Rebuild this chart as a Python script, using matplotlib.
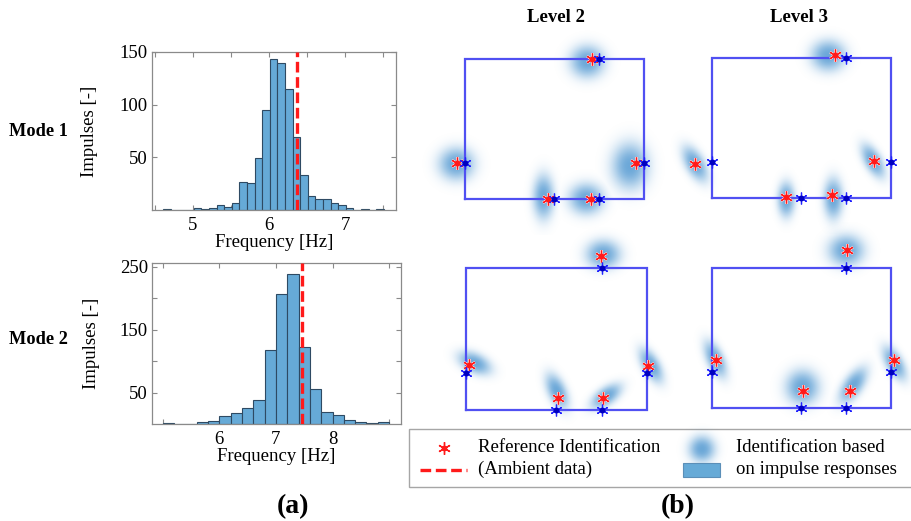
import numpy as np
import matplotlib
matplotlib.use("Agg")
import matplotlib.pyplot as plt
from matplotlib.patches import Rectangle

plt.rcParams['font.family'] = ['Liberation Serif', 'DejaVu Serif']
plt.rcParams['mathtext.fontset'] = 'stix'

# ---------------- data ----------------
# Mode 1 histogram (bin start, bin width, counts)
hist1_start = 4.61
hist1_width = 0.1
hist1_counts = [1, 0, 0, 0, 2, 1, 2, 5, 3, 7, 27, 26, 49, 95, 143, 140, 115, 69,
                33, 13, 10, 10, 7, 5, 2, 0, 1, 0, 1]
hist1_ref = 6.37

# Mode 2 histogram
hist2_start = 5.0
hist2_width = 0.2
hist2_counts = [1, 0, 0, 3, 5, 13, 17, 25, 38, 118, 207, 239, 123, 55, 19, 14, 7, 3, 2, 3]
hist2_ref = 7.455

# floor plan outline (local units)
plan_x = [0, 18, 18, 0, 0]
plan_y = [0, 0, 14, 14, 0]

# sensor locations (blue asterisks)
sensor_x = [13.5, 0.0, 18.0, 9.0, 13.5]
sensor_y = [14.0, 3.6, 3.6, 0.0, 0.0]

# reference identification (red asterisks) per panel
ref_L2M1_x = [12.8, -0.8, 17.2, 8.3, 12.7]
ref_L2M1_y = [14.0, 3.6, 3.6, 0.0, 0.0]
ref_L3M1_x = [12.4, -1.7, 16.26, 7.47, 12.1]
ref_L3M1_y = [14.26, 3.43, 3.66, 0.1, 0.33]
ref_L2M2_x = [13.44, 0.26, 18.1, 9.12, 13.64]
ref_L2M2_y = [15.15, 4.45, 4.38, 1.15, 1.15]
ref_L3M2_x = [13.55, 0.43, 18.33, 9.2, 13.88]
ref_L3M2_y = [15.77, 4.84, 4.77, 1.67, 1.7]

# impulse-based identification clouds: (cx, cy, semi-axis a, semi-axis b, angle deg)
cloud_L2M1 = [(12.3, 13.75, 1.8, 1.67, 0), (-0.85, 3.5, 1.85, 1.7, 0), (16.6, 3.3, 1.9, 2.4, 0),
              (7.9, 0.2, 1.1, 2.3, 0), (12.2, 0.0, 1.8, 1.6, 0)]
cloud_L3M1 = [(11.7, 14.25, 1.8, 1.6, 0), (-1.7, 3.4, 2.0, 1.0, -60), (16.2, 3.7, 1.9, 0.9, -60),
              (7.47, -0.17, 0.9, 1.8, 0), (12.2, -0.07, 1.0, 2.1, 0)]
cloud_L2M2 = [(13.6, 15.35, 1.77, 1.45, 0), (0.82, 4.64, 1.8, 1.0, -25), (18.36, 4.4, 1.9, 0.9, -60),
              (9.0, 1.88, 1.9, 0.95, -65), (13.9, 1.38, 1.8, 0.9, 35)]
cloud_L3M2 = [(13.5, 15.77, 1.85, 1.6, 0), (0.33, 4.87, 2.0, 0.9, -65), (18.35, 4.47, 1.9, 0.9, -60),
              (9.1, 2.07, 1.75, 1.8, 0), (14.2, 2.27, 2.1, 1.0, 55)]

# ---------------- styling ----------------
W, H = 912, 521
BAR_FC = '#66aad7'
BAR_EC = '#2e4a63'
RED = '#ff1a1a'
BLUE = '#2222ff'
PLAN_C = '#5050f2'
CLOUD_RGB = (0.24, 0.55, 0.80)
CLOUD_PEAK = 0.76
CLOUD_SCALE = 1.3
FS = 13.5

fig = plt.figure(figsize=(W / 100, H / 100), dpi=100)


def px_axes(l, t, r, b):
    return fig.add_axes([l / W, 1 - b / H, (r - l) / W, (b - t) / H])


def ftext(x, y, s, **kw):
    fig.text(x / W, 1 - y / H, s, ha='center', va='center', **kw)


def cloud_alpha(rn):
    # rn: normalised radius (1 = visible edge of the cloud)
    return CLOUD_PEAK * np.exp(-(rn / 0.72) ** 2.4)


def hist_axes(rect, start, width, counts, ref, xlim, ylim, xt, xtl, yt, ytl, ylab_x):
    ax = px_axes(*rect)
    edges = start + width * np.arange(len(counts))
    ax.bar(edges, counts, width=width, align='edge', color=BAR_FC,
           edgecolor=BAR_EC, linewidth=0.8, zorder=2)
    ax.axvline(ref, color=RED, lw=2.4, ls=(0, (3.2, 1.4)), zorder=3)
    ax.set_xlim(*xlim)
    ax.set_ylim(*ylim)
    ax.set_xticks(xt)
    ax.set_xticklabels(xtl)
    ax.set_yticks(yt)
    ax.set_yticklabels(ytl)
    for sp in ax.spines.values():
        sp.set_color('#8a8a8a')
        sp.set_linewidth(0.9)
    ax.tick_params(direction='in', top=True, right=True, length=3.5, width=0.8,
                   color='#8a8a8a', labelsize=FS)
    ax.tick_params(axis='x', pad=5)
    ax.tick_params(axis='y', pad=3)
    ax.set_xlabel('Frequency [Hz]', fontsize=FS, labelpad=0)
    ax.set_ylabel('Impulses [-]', fontsize=FS)
    ax.yaxis.set_label_coords(ylab_x, 0.5)
    return ax


hist_axes((152, 52, 396, 210), hist1_start, hist1_width, hist1_counts, hist1_ref,
          (4.46, 7.67), (0, 150), [4.5, 5, 5.5, 6, 6.5, 7, 7.5],
          ['', '5', '', '6', '', '7', ''], [50, 100, 150], ['50', '100', '150'], -0.22)
hist_axes((152, 263, 401, 424), hist2_start, hist2_width, hist2_counts, hist2_ref,
          (4.81, 9.21), (0, 256), [5, 6, 7, 8, 9], ['', '6', '7', '8', ''],
          [50, 100, 150, 200, 250], ['50', '', '150', '', '250'], -0.21)

XL = (-4.6, 22.0)
YL = (-3.6, 18.6)


def plan_axes(rect, ref_x, ref_y, clouds):
    l, t, r, b = rect
    sx = (r - l) / 18.0
    sy = (b - t) / 14.0
    ax = px_axes(l + XL[0] * sx, t - (YL[1] - 14) * sy, r + (XL[1] - 18) * sx, b - YL[0] * sy)
    ax.set_xlim(*XL)
    ax.set_ylim(*YL)
    ax.axis('off')
    ax.patch.set_visible(False)
    n = 500
    xs = np.linspace(XL[0], XL[1], n)
    ys = np.linspace(YL[0], YL[1], n)
    X, Y = np.meshgrid(xs, ys)
    A = np.zeros_like(X)
    for cx, cy, a, bb, ang in clouds:
        th = np.deg2rad(ang)
        dx, dy = X - cx, Y - cy
        u = dx * np.cos(th) + dy * np.sin(th)
        v = -dx * np.sin(th) + dy * np.cos(th)
        rn = np.sqrt((u / (a * CLOUD_SCALE)) ** 2 + (v / (bb * CLOUD_SCALE)) ** 2)
        A = np.maximum(A, cloud_alpha(rn))
    img = np.zeros((n, n, 4))
    img[..., :3] = CLOUD_RGB
    img[..., 3] = A
    ax.imshow(img, extent=[XL[0], XL[1], YL[0], YL[1]], origin='lower', aspect='auto',
              interpolation='bilinear', zorder=1)
    ax.plot(plan_x, plan_y, color=PLAN_C, lw=1.6, zorder=2, solid_joinstyle='miter')
    # reference (red)
    ax.plot(ref_x, ref_y, ls='none', marker=(6, 2, 0), ms=9, mec='#ffc4c4', mew=1.8, zorder=3)
    ax.plot(ref_x, ref_y, ls='none', marker=(6, 2, 0), ms=8.5, mec=RED, mew=0.8, zorder=4)
    ax.plot(ref_x, ref_y, ls='none', marker='o', ms=3.2, mfc=RED, mec=RED, zorder=5)
    # sensors (blue)
    ax.plot(sensor_x, sensor_y, ls='none', marker=(6, 2, 0), ms=8.5, mec=BLUE, mew=0.9, zorder=4)
    ax.plot(sensor_x, sensor_y, ls='none', marker='o', ms=3.2, mfc='#0000c0', mec='#0000c0', zorder=5)
    return ax


plan_axes((465, 59, 644, 199), ref_L2M1_x, ref_L2M1_y, cloud_L2M1)
plan_axes((712, 58, 891, 198), ref_L3M1_x, ref_L3M1_y, cloud_L3M1)
plan_axes((466, 268, 647, 410), ref_L2M2_x, ref_L2M2_y, cloud_L2M2)
plan_axes((712, 268, 891, 408), ref_L3M2_x, ref_L3M2_y, cloud_L3M2)

# labels
ftext(38, 132, 'Mode 1', fontsize=13.2, fontweight='bold')
ftext(38, 339, 'Mode 2', fontsize=13.2, fontweight='bold')
ftext(556, 18, 'Level 2', fontsize=13.5, fontweight='bold')
ftext(799, 18, 'Level 3', fontsize=13.5, fontweight='bold')
ftext(293, 507, '(a)', fontsize=20, fontweight='bold')
ftext(678, 507, '(b)', fontsize=20, fontweight='bold')

# legend (drawn in pixel overlay)
ov = fig.add_axes([0, 0, 1, 1])
ov.set_xlim(0, W)
ov.set_ylim(H, 0)
ov.axis('off')
ov.patch.set_visible(False)
ov.add_patch(Rectangle((409, 429), 510, 58, facecolor='white', edgecolor='#a6a6a6', lw=1.0, zorder=1))
ov.plot([444], [448], ls='none', marker=(6, 2, 0), ms=9, mec=RED, mew=1.0, zorder=3)
ov.plot([444], [448], ls='none', marker='o', ms=3, mfc=RED, mec=RED, zorder=3)
ov.plot([420, 467], [470, 470], color=RED, lw=2.4, ls=(0, (3.2, 1.4)), zorder=3)
ov.text(478, 447, 'Reference Identification', fontsize=FS, ha='left', va='center', zorder=3)
ov.text(478, 469, '(Ambient data)', fontsize=FS, ha='left', va='center', zorder=3)
n = 200
g = np.linspace(-1.5, 1.5, n)
GX, GY = np.meshgrid(g, g)
leg_img = np.zeros((n, n, 4))
leg_img[..., :3] = CLOUD_RGB
leg_img[..., 3] = cloud_alpha(np.sqrt(GX ** 2 + GY ** 2))
ov.imshow(leg_img, extent=[675, 729, 476, 422], aspect='auto', interpolation='bilinear', zorder=2)
ov.add_patch(Rectangle((683, 463), 37, 14, facecolor=BAR_FC, edgecolor='#5b8fb8', lw=0.8, zorder=3))
ov.text(736, 447, 'Identification based', fontsize=FS, ha='left', va='center', zorder=3)
ov.text(736, 469, 'on impulse responses', fontsize=FS, ha='left', va='center', zorder=3)
ov.set_xlim(0, W)
ov.set_ylim(H, 0)

fig.savefig('out.png', dpi=100)
